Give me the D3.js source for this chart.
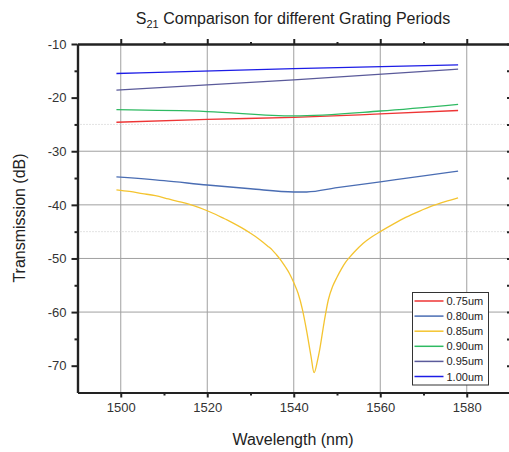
<!DOCTYPE html>
<html><head><meta charset="utf-8">
<script src="https://cdn.jsdelivr.net/npm/d3@7"></script>
<style>body{margin:0;background:#fff}svg{display:block;font-family:"Liberation Sans",Arial,sans-serif}</style>
</head><body><svg id="c" width="509" height="452"></svg>
<script>
const seriesNames = ["0.75um","0.80um","0.85um","0.90um","0.95um","1.00um"];
const seriesColors = ["#ee3535","#4a6db3","#f4c430","#2fba62","#5a5a9a","#1c1ce6"];
const wl075 = [1499,1520,1540,1560,1578];
const v075  = [-24.6,-24.05,-23.7,-23.05,-22.4];
const wl080 = [1499,1510,1520,1530,1540,1543,1550,1560,1570,1578];
const v080  = [-34.8,-35.5,-36.3,-37.0,-37.6,-37.6,-36.8,-35.7,-34.6,-33.7];
const wl085 = [1499,1502,1505,1508,1511,1514,1517,1520,1522,1524,1526,1528,1530,1532,1534,1535,1536,1537,1538,1539,1540,1541,1542,1543,1544,1544.7,1545.5,1546,1547,1548,1549,1550,1551,1552,1553,1554,1556,1558,1560,1563,1566,1569,1572,1575,1578];
const v085  = [-37.2,-37.5,-37.9,-38.3,-38.9,-39.5,-40.2,-41.1,-41.8,-42.6,-43.4,-44.3,-45.3,-46.4,-47.7,-48.4,-49.3,-50.3,-51.5,-52.8,-54.5,-56.5,-59.5,-63.6,-68.3,-71.3,-69.0,-67.0,-62.0,-57.7,-55.2,-53.5,-52.0,-50.7,-49.7,-48.8,-47.2,-46.0,-45.0,-43.6,-42.3,-41.2,-40.2,-39.4,-38.7];
const wl090 = [1499,1520,1540,1560,1578];
const v090  = [-22.25,-22.6,-23.4,-22.5,-21.25];
const wl095 = [1499,1540,1578];
const v095  = [-18.6,-16.7,-14.7];
const wl100 = [1499,1540,1578];
const v100  = [-15.5,-14.6,-13.9];
const xTicks = [1500,1520,1540,1560,1580];
const yTicks = [-10,-20,-30,-40,-50,-60,-70];
const yGridMajor = [-30,-40,-50,-60];
const yGridMinor = [-25,-45];
const titleMain = "S", titleSub = "21", titleRest = " Comparison for different Grating Periods";
const xLabel = "Wavelength (nm)", yLabel = "Transmission (dB)";

const series = [
  {wl:wl075,v:v075},{wl:wl080,v:v080},{wl:wl085,v:v085},
  {wl:wl090,v:v090},{wl:wl095,v:v095},{wl:wl100,v:v100}
].map((s,i)=>({name:seriesNames[i],color:seriesColors[i],pts:s.wl.map((w,j)=>[w,s.v[j]])}));

const L=77.5,R=510,T=44,B=392.5;
const svg=d3.select("#c");
const x=d3.scaleLinear().domain([1490,1590]).range([L,R]);
const y=d3.scaleLinear().domain([-75,-10]).range([B,T]);

// grid
const g=svg.append("g");
g.selectAll(".vg").data(xTicks).join("line").attr("x1",d=>x(d)).attr("x2",d=>x(d)).attr("y1",T).attr("y2",B)
 .attr("stroke","#a0a0a0").attr("stroke-width",1);
g.selectAll(".hg").data(yGridMajor).join("line").attr("x1",L).attr("x2",R).attr("y1",d=>y(d)).attr("y2",d=>y(d))
 .attr("stroke","#a0a0a0").attr("stroke-width",1);
g.selectAll(".hm").data(yGridMinor).join("line").attr("x1",L).attr("x2",R).attr("y1",d=>y(d)).attr("y2",d=>y(d))
 .attr("stroke","#c8c8c8").attr("stroke-width",1).attr("stroke-dasharray","1,2");

// curves
const line=d3.line().x(d=>x(d[0])).y(d=>y(d[1])).curve(d3.curveMonotoneX);
svg.append("g").selectAll("path").data(series).join("path")
 .attr("d",d=>line(d.pts)).attr("fill","none").attr("stroke",d=>d.color).attr("stroke-width",1.3);

// axes
const fmt=d=>String(d);
const minorX=d3.range(1490,1591,10).filter(v=>!xTicks.includes(v)&&v>1490&&v<1590);
const minorY=d3.range(-75,-9,5).filter(v=>!yTicks.includes(v)&&v>-75);
const axCol="#222";
const xb=svg.append("g").attr("transform",`translate(0,${B})`);
xb.call(d3.axisBottom(x).tickValues(xTicks).tickSize(5).tickSizeOuter(0).tickFormat(fmt));
const xbm=svg.append("g").attr("transform",`translate(0,${B})`).call(d3.axisBottom(x).tickValues(minorX).tickSize(3).tickSizeOuter(0).tickFormat(""));
const xt=svg.append("g").attr("transform",`translate(0,${T})`).call(d3.axisTop(x).tickValues(xTicks).tickSize(5).tickSizeOuter(0).tickFormat(""));
const xtm=svg.append("g").attr("transform",`translate(0,${T})`).call(d3.axisTop(x).tickValues(minorX).tickSize(2).tickSizeOuter(0).tickFormat(""));
const yl=svg.append("g").attr("transform",`translate(${L},0)`).call(d3.axisLeft(y).tickValues(yTicks).tickSize(6).tickSizeOuter(0).tickFormat(fmt));
const ylm=svg.append("g").attr("transform",`translate(${L},0)`).call(d3.axisLeft(y).tickValues(minorY).tickSize(3).tickSizeOuter(0).tickFormat(""));
const yr=svg.append("g").attr("transform",`translate(${R},0)`).call(d3.axisLeft(y).tickValues(yTicks.concat(minorY)).tickSize(3).tickSizeOuter(0).tickFormat(""));
[xb,xbm,xt,xtm,yl,ylm,yr].forEach(a=>{
  a.select(".domain").attr("stroke",axCol).attr("stroke-width",2.2);
  a.selectAll(".tick line").attr("stroke",axCol).attr("stroke-width",2);
  a.selectAll(".tick text").attr("fill","#333").attr("font-size",13).attr("font-family","Liberation Sans, Arial, sans-serif");
});
xb.selectAll(".tick text").attr("dy","0.75em").attr("y",10);
yl.selectAll(".tick text").attr("x",-11);

// title
const tt=svg.append("text").attr("x",293).attr("y",24).attr("text-anchor","middle").attr("font-size",16).attr("fill","#222");
tt.append("tspan").text(titleMain);
tt.append("tspan").text(titleSub).attr("font-size",11).attr("dy",4);
tt.append("tspan").text(titleRest).attr("dy",-4);

svg.append("text").attr("x",293).attr("y",445).attr("text-anchor","middle").attr("font-size",16).attr("fill","#222").text(xLabel);
svg.append("text").attr("transform",`translate(25,218) rotate(-90)`).attr("text-anchor","middle").attr("font-size",16).attr("fill","#222").text(yLabel);

// legend
const lg=svg.append("g").attr("transform","translate(412.5,292.5)");
lg.append("rect").attr("width",76).attr("height",92.5).attr("fill","#fff").attr("stroke","#333").attr("stroke-width",1);
const it=lg.selectAll("g").data(series).join("g").attr("transform",(d,i)=>`translate(0,${8.5+i*15.1})`);
it.append("line").attr("x1",2).attr("x2",31).attr("stroke",d=>d.color).attr("stroke-width",1.5);
it.append("text").attr("x",34).attr("y",4).attr("font-size",11).attr("fill","#222").text(d=>d.name);
</script></body></html>
